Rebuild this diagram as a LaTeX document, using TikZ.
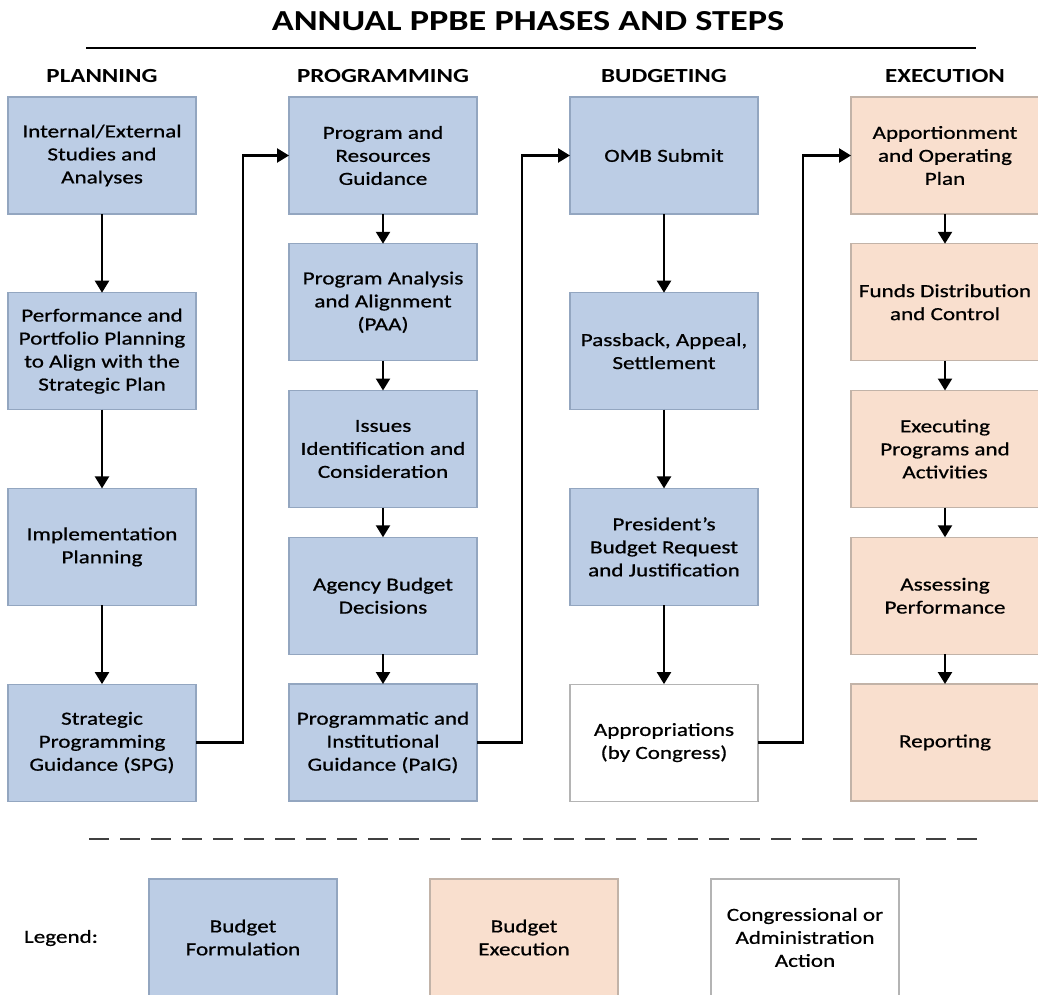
\documentclass[tikz,border=0pt]{standalone}
\usepackage{fontspec}
\setmainfont{Carlito}[FakeStretch=1.25]
\newfontfamily\boxfont{Carlito}[FakeStretch=1.25, FakeBold=0.7]
\usetikzlibrary{positioning,calc}
\usetikzlibrary{arrows.meta}

\definecolor{formfill}{HTML}{BCCDE5}
\definecolor{formline}{HTML}{93A6C0}
\definecolor{execfill}{HTML}{F9DFCE}
\definecolor{execline}{HTML}{C2B3A8}
\definecolor{actline}{HTML}{B4B4B4}

\tikzset{
   phasebox/.style={rectangle, minimum width=188pt, minimum height=117pt,
      inner sep=0pt, outer sep=0pt, align=center, line width=1.2pt,
      font=\boxfont\fontsize{18.5}{23}\selectfont},
   formbox/.style={phasebox, fill=formfill, draw=formline},
   execbox/.style={phasebox, fill=execfill, draw=execline},
   actbox/.style={phasebox, fill=white, draw=actline},
   phasehead/.style={inner sep=0pt, font=\fontsize{20}{23}\selectfont\bfseries},
   flow/.style={line width=2.3pt, -{Triangle[width=14pt,length=12pt]}}
}

\begin{document}
\begin{tikzpicture}[x=1pt,y=-1pt]
   \useasboundingbox (0,0) rectangle (1038,995);

   % title
   \node[font=\fontsize{29}{32}\selectfont\bfseries] (title) at (528,21)
      {ANNUAL PPBE PHASES AND STEPS};
   \draw[line width=2pt] (86,48) -- (976,48);

   % planning
   \node[formbox, anchor=north west] (p1) at (8,97)
      {Internal/External\\Studies and\\Analyses};
   \node[formbox, below=78.7pt of p1] (p2)
      {Performance and\\Portfolio Planning\\to Align with the\\Strategic Plan};
   \node[formbox, below=78.7pt of p2] (p3) {Implementation\\Planning};
   \node[formbox, below=78.7pt of p3] (p4)
      {Strategic\\Programming\\Guidance (SPG)};

   % programming
   \node[formbox, anchor=north west] (r1) at (289,97)
      {Program and\\Resources\\Guidance};
   \node[formbox, below=29.75pt of r1] (r2)
      {Program Analysis\\and Alignment\\(PAA)};
   \node[formbox, below=29.75pt of r2] (r3)
      {Issues\\Identification and\\Consideration};
   \node[formbox, below=29.75pt of r3] (r4) {Agency Budget\\Decisions};
   \node[formbox, below=29.75pt of r4] (r5)
      {Programmatic and\\Institutional\\Guidance (PaIG)};

   % budgeting
   \node[formbox, anchor=north west] (b1) at (570,97) {OMB Submit};
   \node[formbox, below=78.7pt of b1] (b2) {Passback, Appeal,\\Settlement};
   \node[formbox, below=78.7pt of b2] (b3)
      {President’s\\Budget Request\\and Justification};
   \node[actbox, below=78.7pt of b3] (b4) {Appropriations\\(by Congress)};

   % execution
   \node[execbox, anchor=north west] (x1) at (851,97)
      {Apportionment\\and Operating\\Plan};
   \node[execbox, below=29.75pt of x1] (x2) {Funds Distribution\\and Control};
   \node[execbox, below=29.75pt of x2] (x3)
      {Executing\\Programs and\\Activities};
   \node[execbox, below=29.75pt of x3] (x4) {Assessing\\Performance};
   \node[execbox, below=29.75pt of x4] (x5) {Reporting};

   % phase headings
   \node[phasehead, above=14pt of p1] (hp) {PLANNING};
   \node[phasehead, above=14pt of r1] (hr) {PROGRAMMING};
   \node[phasehead, above=14pt of b1] (hb) {BUDGETING};
   \node[phasehead, above=14pt of x1] (hx) {EXECUTION};

   % steps within a phase
   \draw[flow] (p1.south) -- (p2.north);
   \draw[flow] (p2.south) -- (p3.north);
   \draw[flow] (p3.south) -- (p4.north);
   \draw[flow] (r1.south) -- (r2.north);
   \draw[flow] (r2.south) -- (r3.north);
   \draw[flow] (r3.south) -- (r4.north);
   \draw[flow] (r4.south) -- (r5.north);
   \draw[flow] (b1.south) -- (b2.north);
   \draw[flow] (b2.south) -- (b3.north);
   \draw[flow] (b3.south) -- (b4.north);
   \draw[flow] (x1.south) -- (x2.north);
   \draw[flow] (x2.south) -- (x3.north);
   \draw[flow] (x3.south) -- (x4.north);
   \draw[flow] (x4.south) -- (x5.north);

   % phase to phase
   \draw[flow] (p4.east) -- ++(47,0) |- (r1.west);
   \draw[flow] (r5.east) -- ++(45,0) |- (b1.west);
   \draw[flow] (b4.east) -- ++(45,0) |- (x1.west);

   % legend
   \draw[line width=2pt, black!75, dash pattern=on 20pt off 11pt]
      (89,839) -- (980,839);
   \node[font=\boxfont\fontsize{18.5}{23}\selectfont] (lg) at (61,938) {Legend:};
   \node[formbox, anchor=north west] (l1) at (149,879) {Budget\\Formulation};
   \node[execbox, anchor=north west] (l2) at (430,879) {Budget\\Execution};
   \node[actbox, anchor=north west] (l3) at (711,879)
      {Congressional or\\Administration\\Action};
\end{tikzpicture}
\end{document}
